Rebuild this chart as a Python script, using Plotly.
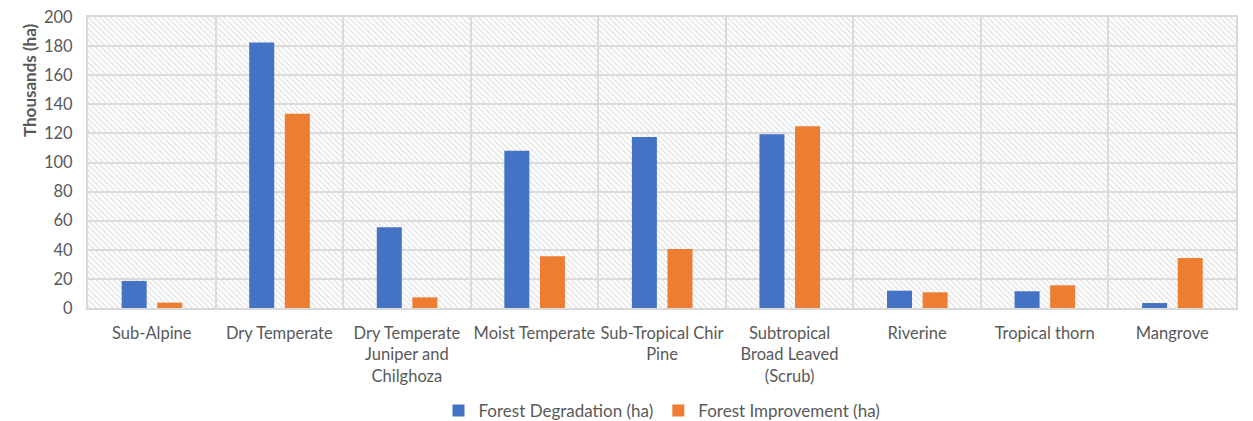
import plotly.graph_objects as go

categories = ["Sub-Alpine", "Dry Temperate", "Dry Temperate<br>Juniper and<br>Chilghoza",
              "Moist Temperate", "Sub-Tropical Chir<br>Pine", "Subtropical<br>Broad Leaved<br>(Scrub)",
              "Riverine", "Tropical thorn", "Mangrove"]
degradation = [18.6, 182.5, 55.5, 108, 117.5, 119.5, 11.9, 11.5, 3.4]
improvement = [3.7, 133.5, 7.3, 35.5, 40.5, 125, 10.8, 15.6, 34.3]

font_family = "Lato, 'Open Sans', sans-serif"
grey = "#595959"

fig = go.Figure()

# hatched plot background (one full-width patterned bar per category)
fig.add_trace(go.Bar(
    x=categories, y=[200] * len(categories),
    width=1, offset=-0.5,
    marker=dict(color="rgba(0,0,0,0)", line=dict(width=0),
                pattern=dict(shape="\\", fgcolor="#e0e0e0", bgcolor="rgba(0,0,0,0)",
                             size=4, solidity=0.3, fillmode="replace")),
    showlegend=False, hoverinfo="skip"))

fig.add_trace(go.Bar(
    x=categories, y=degradation, name="Forest Degradation (ha)",
    width=0.196, offset=-0.236,
    marker=dict(color="#4472C4", line=dict(width=0))))
fig.add_trace(go.Bar(
    x=categories, y=improvement, name="Forest Improvement (ha)",
    width=0.196, offset=0.043,
    marker=dict(color="#ED7D31", line=dict(width=0))))

# y title sits near the top of the axis, so draw it as an annotation
fig.add_annotation(text="<b>Thousands (ha)</b>", textangle=-90,
                   xref="paper", yref="paper", x=-0.051, y=0.785,
                   xanchor="center", yanchor="middle", showarrow=False,
                   font=dict(size=17, color=grey))

# the page puts the figure 8px in from the top-left corner
fig.update_layout(
    width=1253, height=421,
    barmode="overlay",
    paper_bgcolor="white", plot_bgcolor="white",
    margin=dict(l=80, r=25, t=9, b=121, autoexpand=False),
    font=dict(family=font_family, size=16.5, color=grey),
    legend=dict(orientation="h", x=0.5, xanchor="center", y=-0.354, yanchor="middle",
                font=dict(size=17, color=grey), itemwidth=30, tracegroupgap=0),
    xaxis=dict(tickson="boundaries", showgrid=True, gridcolor="#d9d9d9", gridwidth=2,
               showline=True, mirror=True, linecolor="#d9d9d9", linewidth=2,
               ticks="", tickfont=dict(size=16.5, color=grey), range=[-0.5, 8.5],
               tickangle=0, ticklabelstandoff=9, automargin=False),
    yaxis=dict(range=[0, 200], dtick=20, showgrid=True, gridcolor="#d9d9d9", gridwidth=2,
               showline=True, mirror=True, linecolor="#d9d9d9", linewidth=2,
               zeroline=False, ticks="", tickfont=dict(size=16.5, color=grey),
               ticklabelstandoff=10, ticklabeloverflow="allow", automargin=False),
)

fig.write_html("out.html")
